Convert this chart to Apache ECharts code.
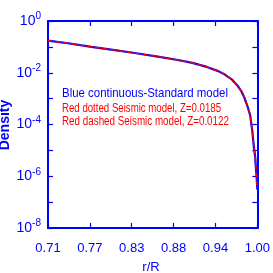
<!DOCTYPE html>
<html><head><meta charset="utf-8">
<script src="https://cdn.jsdelivr.net/npm/echarts@6/dist/echarts.min.js"></script>
<style>html,body{margin:0;padding:0;background:#fff}#c{width:273px;height:273px}</style>
</head><body><div id="c"></div>
<script>
const radius = [0.71, 0.74, 0.77, 0.80, 0.83, 0.86, 0.89, 0.91, 0.93, 0.945, 0.955, 0.965, 0.972, 0.978, 0.982, 0.986, 0.99, 0.993, 0.995, 0.997, 0.998, 0.999, 1.0];
const densityStandard = [0.175, 0.135, 0.10, 0.077, 0.058, 0.043, 0.031, 0.024, 0.0168, 0.0118, 0.0085, 0.0054, 0.0033, 0.0019, 0.0011, 5.4e-4, 2.3e-4, 5.5e-5, 1.5e-5, 5.5e-6, 2.1e-6, 9e-7, 3e-7];
const densitySeismic185 = [0.175, 0.135, 0.10, 0.077, 0.058, 0.043, 0.031, 0.024, 0.0168, 0.0118, 0.0085, 0.0054, 0.0033, 0.0019, 0.0011, 5.4e-4, 2.3e-4, 5.5e-5, 1.5e-5, 5.5e-6, 2.1e-6, 9e-7, 3e-7];
const densitySeismic122 = [0.174, 0.134, 0.10, 0.077, 0.058, 0.043, 0.031, 0.024, 0.0167, 0.0117, 0.0084, 0.0053, 0.0033, 0.0019, 0.0011, 5.5e-4, 2.4e-4, 6.0e-5, 1.7e-5, 6.5e-6, 2.6e-6, 1.1e-6, 3.5e-7];
const xTicks = [0.71, 0.768, 0.826, 0.884, 0.942, 1.0];
const legendLines = ['Blue continuous-Standard model', 'Red dotted Seismic model, Z=0.0185', 'Red dashed Seismic model, Z=0.0122'];
const xName = 'r/R', yName = 'Density';

const BLUE = '#0000ff', RED = '#ff0000';
const FONT = 'Liberation Sans';
const pair = arr => radius.map((r, i) => [r, arr[i]]);

// fit text to a target width by horizontal scaling
const ctx = document.createElement('canvas').getContext('2d');
function fitScale(text, font, target) { ctx.font = font; return target / ctx.measureText(text).width; }
const LFONT = '13px ' + FONT;
const legendWidths = [166, 159, 167];

const xBase = {
  type: 'value', min: 0.71, max: 1.0,
  axisLine: { show: true, onZero: false, lineStyle: { color: BLUE, width: 2 } },
  axisTick: { show: true, inside: false, length: -5, customValues: xTicks, lineStyle: { color: BLUE, width: 1.2 } },
  splitLine: { show: false }
};
const yBase = {
  type: 'log', logBase: 10, min: 1e-8, max: 1, interval: 1,
  axisLine: { show: true, onZero: false, lineStyle: { color: BLUE, width: 2 } },
  axisTick: { show: true, inside: false, length: -5, lineStyle: { color: BLUE, width: 1.2 } },
  splitLine: { show: false }, minorTick: { show: false }
};

const chart = echarts.init(document.getElementById('c'), null, { renderer: 'canvas' });
chart.setOption({
  backgroundColor: '#fff',
  animation: false,
  grid: { left: 48, right: 15, top: 21, bottom: 45, containLabel: false },
  xAxis: [
    Object.assign({}, xBase, { position: 'bottom',
      axisLabel: { show: true, customValues: xTicks, margin: 14, color: BLUE, fontFamily: FONT, fontSize: 13,
        formatter: v => v.toFixed(2) } }),
    Object.assign({}, xBase, { position: 'top', axisLabel: { show: false } })
  ],
  yAxis: [
    Object.assign({}, yBase, { position: 'left',
      axisLabel: { show: true, margin: 7, color: BLUE, fontFamily: FONT,
        formatter: v => { const e = Math.round(Math.log10(v)); return (e % 2 !== 0) ? '' : '{b|10}{s|' + (e === 0 ? '0' : String(e)) + '}'; },
        rich: { b: { fontSize: 14, color: BLUE, fontFamily: FONT }, s: { fontSize: 10, color: BLUE, fontFamily: FONT, padding: [0, 0, 9, 0] } } } }),
    Object.assign({}, yBase, { position: 'right', axisLabel: { show: false } })
  ],
  graphic: [
    { type: 'text', x: 5, y: 125, rotation: Math.PI / 2, style: { text: yName, fill: BLUE, font: 'bold 14px ' + FONT, align: 'center', verticalAlign: 'middle' } },
    { type: 'text', x: 151, y: 267, style: { text: xName, fill: BLUE, font: '13px ' + FONT, align: 'center', verticalAlign: 'middle' } },
    { type: 'text', x: 62, y: 93, scaleX: fitScale(legendLines[0], LFONT, legendWidths[0]), style: { text: legendLines[0], fill: BLUE, font: LFONT, verticalAlign: 'middle' } },
    { type: 'text', x: 62, y: 108, scaleX: fitScale(legendLines[1], LFONT, legendWidths[1]), style: { text: legendLines[1], fill: RED, font: LFONT, verticalAlign: 'middle' } },
    { type: 'text', x: 62, y: 121, scaleX: fitScale(legendLines[2], LFONT, legendWidths[2]), style: { text: legendLines[2], fill: RED, font: LFONT, verticalAlign: 'middle' } }
  ],
  series: [
    { type: 'line', xAxisIndex: 0, yAxisIndex: 0, data: pair(densityStandard), symbol: 'none', lineStyle: { color: BLUE, width: 2.2 } },
    { type: 'line', xAxisIndex: 0, yAxisIndex: 0, data: pair(densitySeismic185), symbol: 'none', lineStyle: { color: RED, width: 1.3, type: 'dotted' } },
    { type: 'line', xAxisIndex: 0, yAxisIndex: 0, data: pair(densitySeismic122), symbol: 'none', lineStyle: { color: RED, width: 1.3, type: [4, 4] } }
  ]
});
</script></body></html>
